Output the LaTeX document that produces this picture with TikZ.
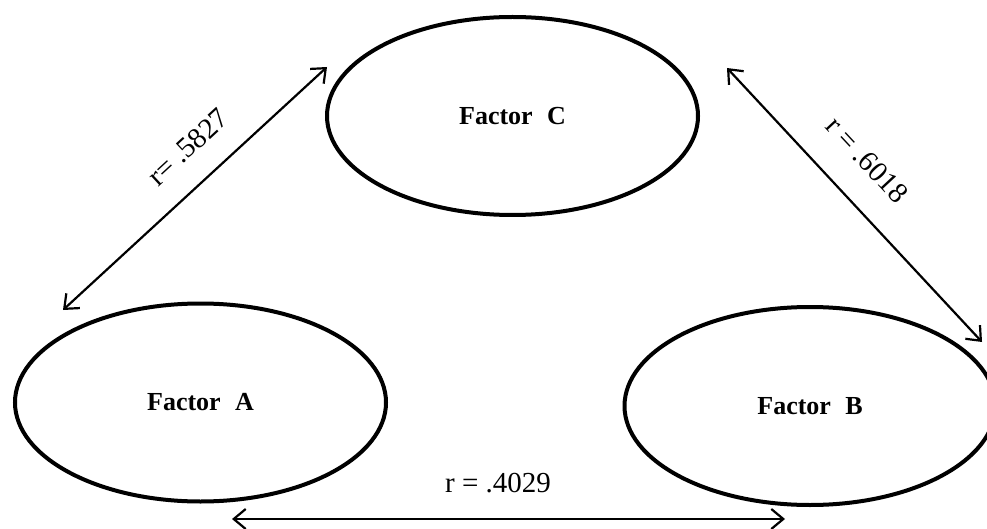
\documentclass[tikz,border=0pt]{standalone}
\usepackage{fontspec}
\setmainfont{Liberation Serif}
\usetikzlibrary{shapes.geometric,arrows.meta}
\begin{document}
\begin{tikzpicture}[x=1pt,y=-1pt,
  factor/.style={draw,ellipse,line width=4pt,minimum width=371pt,minimum height=198pt,
    inner sep=0pt,font=\fontsize{26}{30}\selectfont\bfseries},
  corr/.style={{Straight Barb[length=12pt,width=20pt,line width=2.2pt]}-{Straight Barb[length=12pt,width=20pt,line width=2.2pt]},line width=2.2pt},
  rlab/.style={font=\fontsize{29}{32}\selectfont,inner sep=0pt}]
\useasboundingbox (0,0) rectangle (987,529);
\node[factor] (C) at (512.5,116) {Factor\hspace{0.55em}C};
\node[factor] (A) at (200.5,402.5) {Factor\hspace{0.55em}A};
\node[factor] (B) at (810,406) {Factor\hspace{0.55em}B};
\coordinate (ca1) at (327,67);
\coordinate (ca2) at (63,310);
\coordinate (cb1) at (727,68);
\coordinate (cb2) at (982,342);
\coordinate (ab1) at (232,519);
\coordinate (ab2) at (785,519);
\draw[corr] (ca2) -- (ca1);
\draw[corr] (cb1) -- (cb2);
\draw[corr] (ab1) -- (ab2);
\node[rlab,rotate=42.7] (rca) at (188,147) {r= .5827};
\node[rlab,rotate=-47] (rcb) at (867,160) {r = .6018};
\node[rlab] (rab) at (498,483) {r = .4029};
\end{tikzpicture}
\end{document}
